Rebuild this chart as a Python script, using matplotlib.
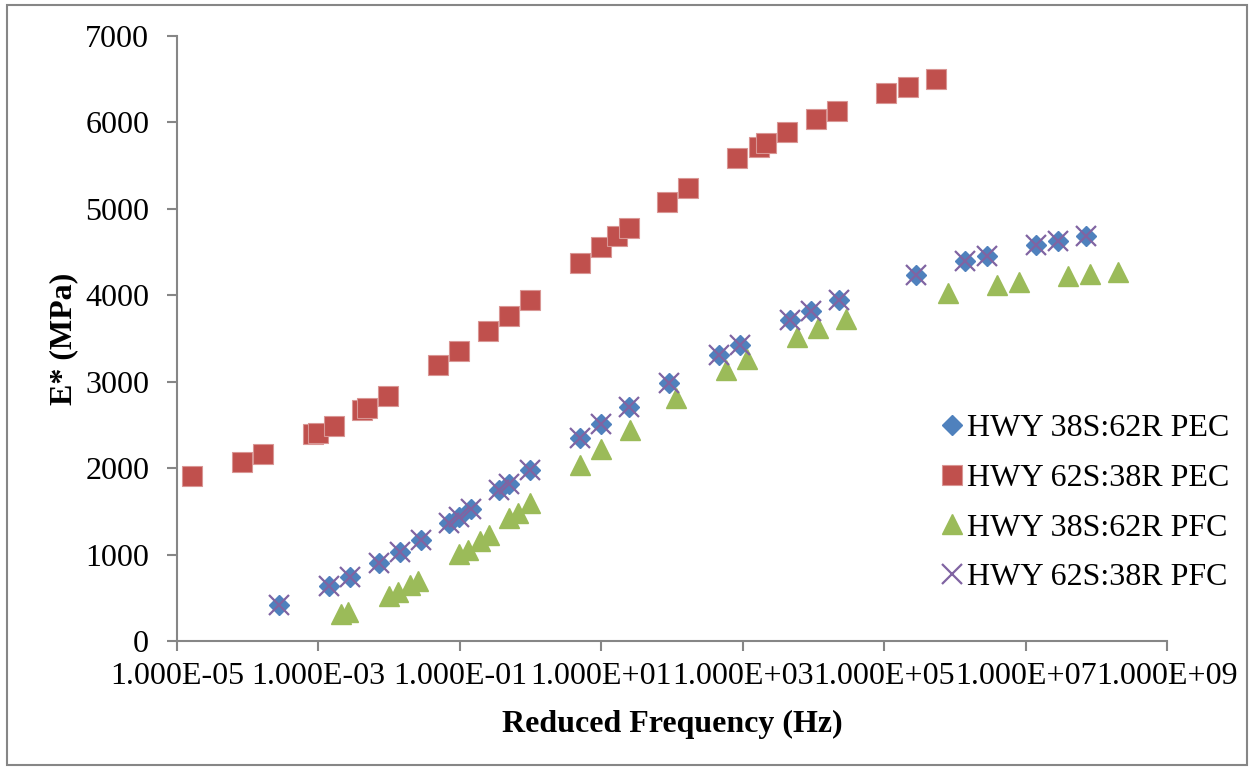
import matplotlib.pyplot as plt
from matplotlib.patches import Rectangle
from matplotlib.ticker import FixedLocator, FuncFormatter, NullLocator

plt.rcParams['font.family'] = ['Liberation Serif', 'DejaVu Serif']

# reduced frequency (Hz) and dynamic modulus E* (MPa)
freq_38_pec = [2.77e-4, 1.41e-3, 2.80e-3, 7.19e-3, 0.0143, 0.0282, 0.0703, 0.0975, 0.144,
               0.358, 0.497, 0.984, 5.01, 9.93, 24.7, 91.0, 463, 918, 4677, 9270, 23100,
               2.84e5, 1.40e6, 2.86e6, 1.41e7, 2.89e7, 7.19e7]
e_38_pec = [417, 636, 740, 902, 1030, 1169, 1365, 1435, 1527, 1747, 1816, 1978, 2349, 2511,
            2707, 2985, 3309, 3425, 3714, 3818, 3945, 4235, 4397, 4454, 4582, 4628, 4686]

freq_62_pec = [1.63e-5, 8.3e-5, 1.64e-4, 8.4e-4, 9.9e-4, 1.66e-3, 4.14e-3, 4.86e-3, 9.6e-3,
               0.0492, 0.0975, 0.251, 0.497, 0.984, 5.01, 9.93, 16.7, 24.7, 85.3, 169, 834,
               1706, 2143, 4246, 10900, 21600, 1.067e5, 2.18e5, 5.43e5]
e_62_pec = [1909, 2071, 2164, 2395, 2407, 2488, 2673, 2696, 2835, 3193, 3355, 3587, 3760,
            3945, 4373, 4558, 4686, 4778, 5079, 5241, 5588, 5715, 5762, 5889, 6039, 6132,
            6340, 6410, 6502]

freq_38_pfc = [2.09e-3, 2.62e-3, 9.98e-3, 0.0134, 0.0198, 0.0256, 0.0975, 0.131, 0.193,
               0.259, 0.497, 0.665, 0.984, 5.01, 9.93, 25.5, 114, 582, 1153, 5890, 11640,
               29040, 8.04e5, 3.96e6, 8.11e6, 4.0e7, 8.2e7, 2.04e8]
e_38_pfc = [312, 336, 521, 567, 648, 694, 1007, 1053, 1157, 1226, 1423, 1481, 1597, 2036,
            2221, 2441, 2812, 3135, 3263, 3517, 3621, 3726, 4026, 4119, 4154, 4223, 4246, 4270]

freq_62_pfc = list(freq_38_pec)
e_62_pfc = list(e_38_pec)

x_ticks = [1e-5, 1e-3, 1e-1, 1e1, 1e3, 1e5, 1e7, 1e9]
y_ticks = [0, 1000, 2000, 3000, 4000, 5000, 6000, 7000]

fig = plt.figure(figsize=(12.53, 7.70), dpi=100)
ax = fig.add_axes([177 / 1253, 129 / 770, 990 / 1253, 605 / 770])

ax.plot(freq_38_pec, e_38_pec, linestyle='none', marker='D', ms=10.5,
        color='#4F81BD', mec='#4F81BD', label='HWY 38S:62R PEC')
ax.plot(freq_62_pec, e_62_pec, linestyle='none', marker='s', ms=14.5,
        color='#C0504D', mec='#D99694', mew=0.8, label='HWY 62S:38R PEC')
ax.plot(freq_38_pfc, e_38_pfc, linestyle='none', marker='^', ms=15,
        color='#9BBB59', mec='#9BBB59', label='HWY 38S:62R PFC')
ax.plot(freq_62_pfc, e_62_pfc, linestyle='none', marker='x', ms=14.5, mew=1.6,
        color='#8064A2', label='HWY 62S:38R PFC')

ax.set_xscale('log')
ax.set_xlim(1e-5, 1e9)
ax.set_ylim(0, 7000)
ax.xaxis.set_major_locator(FixedLocator(x_ticks))
ax.xaxis.set_minor_locator(NullLocator())
ax.xaxis.set_major_formatter(FuncFormatter(lambda v, p: f'{v:.3E}'))
ax.set_yticks(y_ticks)

for side in ['top', 'right']:
    ax.spines[side].set_visible(False)
for side in ['left', 'bottom']:
    ax.spines[side].set_color('#868686')
    ax.spines[side].set_linewidth(1.5)

ax.tick_params(axis='both', colors='#868686', labelcolor='black', labelsize=23,
               direction='out', length=7, width=1.5)
ax.tick_params(axis='y', pad=13)
ax.tick_params(axis='x', pad=8)

ax.set_xlabel('Reduced Frequency (Hz)', fontsize=23, fontweight='bold', labelpad=14)
ax.set_ylabel('E* (MPa)', fontsize=23, fontweight='bold', labelpad=5)

ax.legend(loc='center left', bbox_to_anchor=(0.760, 0.228), frameon=False, fontsize=23,
          handlelength=0.6, handletextpad=0.17, labelspacing=0.64, borderaxespad=0)

# grey frame around the whole chart
fig.patches.append(Rectangle((7 / 1253, 5 / 770), 1240 / 1253, 760 / 770,
                             transform=fig.transFigure, fill=False,
                             edgecolor='#868686', linewidth=1.5))

fig.savefig('out.png', dpi=100)
